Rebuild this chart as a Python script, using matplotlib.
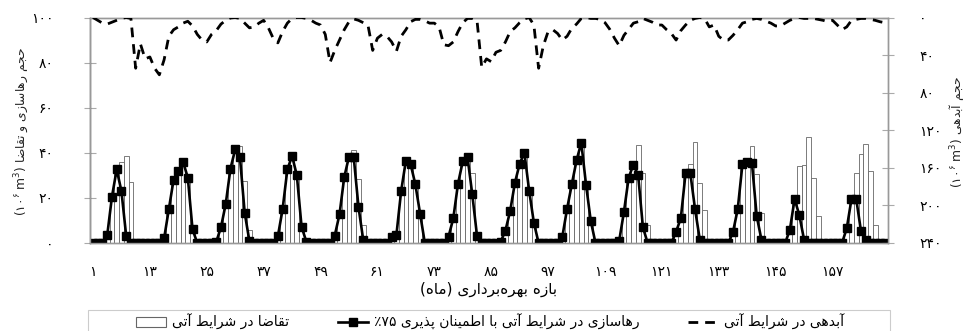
import re
import numpy as np
import matplotlib
matplotlib.use('Agg')
import matplotlib.pyplot as plt
from matplotlib.lines import Line2D
from matplotlib.patches import Rectangle

plt.rcParams['font.family'] = ['DejaVu Sans']
plt.rcParams['mathtext.fontset'] = 'dejavusans'

# ---- data (one row per year, 12 months each) ----
demand_rows = [
    [0, 0, 0, 3, 19, 31, 35.7, 38.5, 27.2, 0, 0, 0],
    [0, 0, 0, 2, 14, 27, 31, 37, 29.5, 6.5, 0, 0],
    [0, 0, 0, 6, 16, 32, 41, 43, 27.5, 5.8, 0, 0],
    [0, 0, 0, 2.5, 14, 32, 38, 31, 8.4, 0, 0, 0],
    [0, 0, 0, 3, 12, 28.5, 38, 41.2, 28.5, 8.1, 0, 0],
    [0, 0, 0, 2.5, 3.5, 22, 36.5, 37, 27, 13, 0, 0],
    [0, 0, 0, 2.5, 10.5, 26, 36, 38, 31, 4.5, 0, 0],
    [0, 0, 0, 5, 14, 26, 35, 41, 23, 9, 0, 0],
    [0, 0, 0, 2.5, 15, 26, 36, 44, 26, 10, 0, 0],
    [0, 0, 0, 1, 13, 28, 35, 43.5, 31, 8.2, 0, 0],
    [0, 0, 0, 5, 11, 30, 35, 44.8, 26.8, 14.5, 0, 0],
    [0, 0, 0, 4.5, 15, 34.5, 36, 43.2, 30.7, 13.5, 0, 0],
    [0, 0, 0, 5.5, 19, 34, 34.8, 47.2, 29, 12, 0, 0],
    [0, 0, 0, 6, 19, 31, 39.5, 44.1, 32, 8.2, 0, 0],
]
release_rows = [
    [0, 0, 0, 3.4, 20.5, 32.6, 23, 3.2, 0, 0, 0, 0],
    [0, 0, 0, 2, 15, 28, 32, 36, 29, 6, 0, 0],
    [0, 0, 0.5, 7, 17.3, 33, 41.5, 38, 13.4, 0.8, 0, 0],
    [0, 0, 0, 3, 15, 32.6, 38.6, 30, 7.2, 0.6, 0, 0],
    [0, 0, 0, 3.3, 12.7, 29.2, 38.3, 38, 16.1, 1.4, 0, 0],
    [0, 0, 0, 2.5, 3.5, 23, 36.5, 35, 26, 13, 0, 0],
    [0, 0, 0, 2.8, 10.9, 26.3, 36.2, 38.1, 21.7, 3.3, 0, 0],
    [0, 0, 0.6, 5.5, 14.2, 26.7, 35.1, 40.1, 23.2, 9, 0, 0],
    [0, 0, 0, 2.7, 15.1, 26, 36.6, 44.5, 25.9, 9.8, 0, 0],
    [0, 0, 0, 1, 13.8, 29, 34.8, 30, 7, 0, 0, 0],
    [0, 0, 0, 5, 11, 31, 31, 15, 1.5, 0, 0, 0],
    [0, 0, 0, 4.8, 15, 35, 36, 35.5, 12, 1.5, 0, 0],
    [0, 0, 0, 5.8, 19.5, 12.3, 1.4, 0, 0, 0, 0, 0],
    [0, 0, 0, 6.5, 19.5, 19.5, 5.3, 1.4, 0, 0, 0, 0],
]
inflow_rows = [
    [0, 3, 6, 7, 5, 3, 1, 0, 1, 54, 28, 44],
    [42, 54, 61, 45, 20, 13, 10, 6, 4, 9, 18, 24],
    [26, 18, 14, 7, 3, 0.5, 0, 1, 6, 11, 10, 6],
    [3, 11, 22, 27, 15, 6, 1, 0, 0, 1, 3, 6],
    [8, 18, 48, 35, 24, 13, 4.5, 1.5, 3, 5.5, 8, 35],
    [22, 18, 20, 26, 36, 20, 13, 4.5, 2, 2, 3.5, 6],
    [6, 10, 29, 30, 26, 15, 5.5, 1, 1, 3, 53, 44],
    [47, 37, 35, 26, 15, 11, 5.5, 1.5, 0, 8, 54, 30],
    [15, 13, 17, 24, 20, 11.5, 7, 1, 0, 1, 1, 2],
    [5.5, 12.5, 22, 30, 19, 12.5, 6, 4.5, 1, 3, 5, 8],
    [8, 13, 17, 24, 14, 8, 3, 1, 0, 1, 10, 8],
    [20, 24, 24, 19, 13, 6, 4.5, 2, 1, 2, 4, 6],
    [9, 9, 6, 3, 1, 0, 1, 1, 1, 2, 3, 4.5],
    [3, 8, 13, 10, 3, 2, 1, 1, 2, 3, 4.5, 5.5],
]
xticks = [1, 13, 25, 37, 49, 61, 73, 85, 97, 109, 121, 133, 145, 157]
left_ticks = [0, 20, 40, 60, 80, 100]
right_ticks = [0, 40, 80, 120, 160, 200, 240]

demand = np.concatenate(demand_rows)
release = np.concatenate(release_rows)
inflow = np.concatenate(inflow_rows)
months = np.arange(1, len(demand) + 1)

# ---- simple Persian shaping (matplotlib has no bidi / joining) ----
FORMS = {
    'ا': ('\uFE8D', '\uFE8E', None, None),
    'آ': ('\uFE81', '\uFE82', None, None),
    'ب': ('\uFE8F', '\uFE90', '\uFE91', '\uFE92'),
    'پ': ('\uFB56', '\uFB57', '\uFB58', '\uFB59'),
    'ت': ('\uFE95', '\uFE96', '\uFE97', '\uFE98'),
    'ج': ('\uFE9D', '\uFE9E', '\uFE9F', '\uFEA0'),
    'ح': ('\uFEA1', '\uFEA2', '\uFEA3', '\uFEA4'),
    'د': ('\uFEA9', '\uFEAA', None, None),
    'ذ': ('\uFEAB', '\uFEAC', None, None),
    'ر': ('\uFEAD', '\uFEAE', None, None),
    'ز': ('\uFEAF', '\uFEB0', None, None),
    'س': ('\uFEB1', '\uFEB2', '\uFEB3', '\uFEB4'),
    'ش': ('\uFEB5', '\uFEB6', '\uFEB7', '\uFEB8'),
    'ض': ('\uFEBD', '\uFEBE', '\uFEBF', '\uFEC0'),
    'ط': ('\uFEC1', '\uFEC2', '\uFEC3', '\uFEC4'),
    'ق': ('\uFED5', '\uFED6', '\uFED7', '\uFED8'),
    'ل': ('\uFEDD', '\uFEDE', '\uFEDF', '\uFEE0'),
    'م': ('\uFEE1', '\uFEE2', '\uFEE3', '\uFEE4'),
    'ن': ('\uFEE5', '\uFEE6', '\uFEE7', '\uFEE8'),
    'ه': ('\uFEE9', '\uFEEA', '\uFEEB', '\uFEEC'),
    'و': ('\uFEED', '\uFEEE', None, None),
    'ی': ('\uFBFC', '\uFBFD', '\uFBFE', '\uFBFF'),
    'ي': ('\uFEF1', '\uFEF2', '\uFEF3', '\uFEF4'),
}


def fa(s):
    out = []
    for i, c in enumerate(s):
        f = FORMS.get(c)
        if f is None:
            if c != '\u200c':
                out.append(c)
            continue
        p = s[i - 1] if i > 0 else ''
        n = s[i + 1] if i + 1 < len(s) else ''
        jp = p in FORMS and FORMS[p][2] is not None
        jn = f[2] is not None and n in FORMS
        out.append(f[3] if jp and jn else f[1] if jp else f[2] if jn else f[0])
    vis = ''.join(reversed(out))
    vis = vis.translate(str.maketrans('()', ')('))
    return re.sub(r'[0-9۰-۹]+', lambda m: m.group(0)[::-1], vis)


def fdig(v):
    return str(v).translate(str.maketrans('0123456789', '۰۱۲۳۴۵۶۷۸۹'))


unit = r'(۱۰$^{\mathrm{۶}}$ m$^{3}$) '

# ---- figure ----
W, H = 968, 331
fig = plt.figure(figsize=(W / 100, H / 100), dpi=100)
ax = fig.add_axes([90 / W, 88 / H, 798 / W, 225.5 / H])

ax.bar(months, demand, width=1.0, color='white', edgecolor='#666666',
       linewidth=0.6, zorder=1)
ax.plot(months, release, '-s', color='black', lw=1.9, ms=5.8, zorder=3)
ax.set_xlim(0.37, 168.7)
ax.set_ylim(0, 100)
ax.set_yticks(left_ticks)
ax.set_yticklabels([fdig(v) for v in left_ticks])
ax.set_xticks(xticks)
ax.set_xticklabels([fdig(v) for v in xticks])
ax.tick_params(axis='y', direction='inout', length=9, color='#aaaaaa',
               pad=22, labelsize=10)
ax.tick_params(axis='x', length=0, pad=16, labelsize=10)
ax.set_xlabel(fa('بازه بهره‌برداری (ماه)'), fontsize=11, labelpad=2)

ax2 = ax.twinx()
ax2.plot(months, inflow, color='black', lw=2, dashes=(3.5, 2.5), zorder=3)
ax2.set_ylim(240, 0)
ax2.set_yticks(right_ticks)
ax2.set_yticklabels([fdig(v) for v in right_ticks])
ax2.tick_params(axis='y', direction='inout', length=9, color='#aaaaaa',
                pad=18, labelsize=10)

for a in (ax, ax2):
    for s in a.spines.values():
        s.set_color('#999999')
        s.set_linewidth(1.0)
ax.spines['left'].set_color('#555555')

# axis titles placed explicitly
fig.text(22 / W, 1 - 132 / H, unit + fa('حجم رهاسازی و تقاضا'),
         rotation=90, ha='center', va='center', fontsize=8.8, color='#222222')
fig.text(957 / W, 1 - 132 / H, unit + fa('حجم آبدهی'),
         rotation=90, ha='center', va='center', fontsize=8.8, color='#222222')

# legend
fig.patches.append(Rectangle((88 / W, -0.05), 802 / W, 0.05 + 21 / H,
                             transform=fig.transFigure, facecolor='white',
                             edgecolor='#cccccc', linewidth=0.8))
handles = [
    Rectangle((0, 0), 1, 1, facecolor='white', edgecolor='#666666', linewidth=0.8),
    Line2D([], [], color='black', lw=1.9, marker='s', ms=5.8),
    Line2D([], [], color='black', lw=2, dashes=(3.5, 2.5)),
]
labels = [
    fa('تقاضا در شرایط آتی'),
    fa('رهاسازی در شرایط آتی با اطمینان پذیری ۷۵٪'),
    fa('آبدهی در شرایط آتی'),
]
fig.legend(handles, labels, loc='center', bbox_to_anchor=(490 / W, 9 / H),
           ncol=3, frameon=False, fontsize=10, handlelength=2.2,
           handletextpad=0.4, columnspacing=3.5, borderaxespad=0)

fig.savefig('out.png', dpi=100)
